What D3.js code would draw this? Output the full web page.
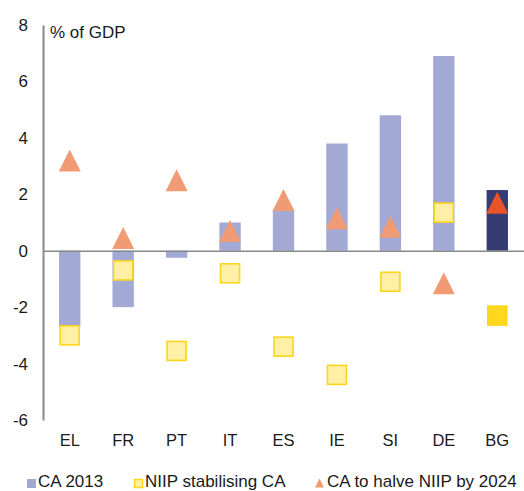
<!DOCTYPE html>
<html>
<head>
<meta charset="utf-8">
<script src="https://cdn.jsdelivr.net/npm/d3@7"></script>
<style>
  body { margin: 0; background: #fff; }
  text { font-family: "Liberation Sans", Arial, sans-serif; fill: #1a1a1a; }
</style>
</head>
<body>
<div id="chart"></div>
<script>
// Chart size
var svgWidth = 524;
var svgHeight = 491;

// Data
var countries = ["EL", "FR", "PT", "IT", "ES", "IE", "SI", "DE", "BG"];
var ca2013 = [-2.7, -2.0, -0.25, 1.0, 1.45, 3.8, 4.8, 6.9, 2.15];
var niipStabilising = [-3.0, -0.7, -3.55, -0.8, -3.4, -4.4, -1.1, 1.35, -2.3];
var caHalveNiip = [3.2, 0.45, 2.5, 0.7, 1.8, 1.15, 0.85, -1.15, 1.7];
var yTicks = [-6, -4, -2, 0, 2, 4, 6, 8];
var seriesNames = ["CA 2013", "NIIP stabilising CA", "CA to halve NIIP by 2024"];

var rows = countries.map(function(c, i) {
  return { country: c, ca: ca2013[i], niip: niipStabilising[i], halve: caHalveNiip[i] };
});

var svg = d3.select("#chart")
  .append("svg")
  .attr("width", svgWidth)
  .attr("height", svgHeight);

// Scales
var xScale = d3.scaleBand()
  .domain(countries)
  .range([43, 524])
  .padding(0);

var yScale = d3.scaleLinear()
  .domain([-6, 8])
  .range([420, 25]);

var barWidth = xScale.bandwidth() * 0.4;
var cx = d => xScale(d.country) + xScale.bandwidth() / 2;

// Bars
svg.selectAll(".bar")
  .data(rows)
  .enter()
  .append("rect")
  .attr("class", "bar")
  .attr("x", d => cx(d) - barWidth / 2)
  .attr("width", barWidth)
  .attr("y", d => yScale(Math.max(0, d.ca)))
  .attr("height", d => Math.abs(yScale(d.ca) - yScale(0)))
  .attr("fill", d => d.country === "BG" ? "#363c72" : "#a3a9d5");

// Axes (plain hyphen for negatives, like the original)
var leftAxis = d3.axisLeft(yScale)
  .tickValues(yTicks)
  .tickFormat(d => String(d))
  .tickSize(0)
  .tickPadding(15);
var yAxisG = svg.append("g")
  .attr("transform", "translate(43,0)")
  .call(leftAxis);
yAxisG.select(".domain").attr("stroke", "#888").attr("stroke-width", 2);
yAxisG.selectAll("text")
  .attr("font-size", 17)
  .attr("font-family", "Liberation Sans, Arial, sans-serif")
  .attr("fill", "#1a1a1a");

var bottomAxis = d3.axisBottom(xScale).tickSize(0).tickPadding(0);
var xAxisG = svg.append("g")
  .attr("transform", "translate(0," + yScale(0) + ")")
  .call(bottomAxis);
xAxisG.select(".domain").attr("stroke", "#888").attr("stroke-width", 1.5);
xAxisG.selectAll("text")
  .attr("y", 446 - yScale(0))
  .attr("dy", 0)
  .attr("font-size", 16.5)
  .attr("font-family", "Liberation Sans, Arial, sans-serif")
  .attr("fill", "#1a1a1a");

// Unit label
svg.append("text")
  .attr("x", 50)
  .attr("y", 38)
  .attr("font-size", 17)
  .text("% of GDP");

// Squares: NIIP stabilising CA
var sq = 19;
svg.selectAll(".niip")
  .data(rows)
  .enter()
  .append("rect")
  .attr("class", "niip")
  .attr("x", d => cx(d) - sq / 2)
  .attr("y", d => yScale(d.niip) - sq / 2)
  .attr("width", sq)
  .attr("height", sq)
  .attr("fill", d => d.country === "BG" ? "#ffd71c" : "#fff0a6")
  .attr("stroke", "#fcd51c")
  .attr("stroke-width", 1.6);

// Triangles: CA to halve NIIP by 2024
var tri = 11;
svg.selectAll(".halve")
  .data(rows)
  .enter()
  .append("path")
  .attr("class", "halve")
  .attr("d", function(d) {
    var x = cx(d), y = yScale(d.halve);
    return "M" + x + "," + (y - tri) + "L" + (x + tri) + "," + (y + tri) + "L" + (x - tri) + "," + (y + tri) + "Z";
  })
  .attr("fill", d => d.country === "BG" ? "#e8542a" : "#f19b75");

// Legend
var legend = svg.append("g");
legend.append("rect")
  .attr("x", 27).attr("y", 479).attr("width", 9).attr("height", 9)
  .attr("fill", "#a3a9d5");
legend.append("text").attr("x", 38).attr("y", 487).attr("font-size", 17).text(seriesNames[0]);

legend.append("rect")
  .attr("x", 134.5).attr("y", 479.5).attr("width", 8).attr("height", 8)
  .attr("fill", "#fff0a6").attr("stroke", "#fcd51c").attr("stroke-width", 1.5);
legend.append("text").attr("x", 145).attr("y", 487).attr("font-size", 17).text(seriesNames[1]);

legend.append("path")
  .attr("d", "M319.5,478.5L324,487.5L315,487.5Z")
  .attr("fill", "#f19b75");
legend.append("text").attr("x", 327).attr("y", 487).attr("font-size", 17).text(seriesNames[2]);
</script>
</body>
</html>
